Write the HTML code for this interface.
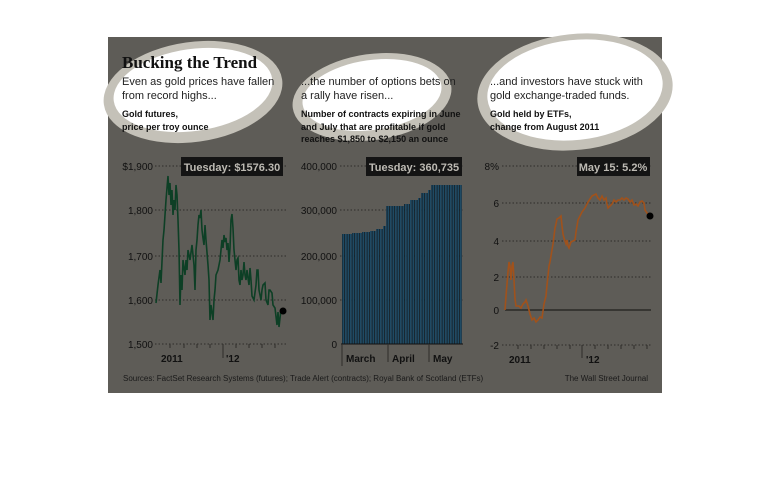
<!DOCTYPE html>
<html><head><meta charset="utf-8"><style>
body{margin:0;background:#fff;width:770px;height:488px;overflow:hidden}
svg{display:block}
text{font-family:"Liberation Sans",sans-serif}
</style></head><body>
<svg width="770" height="488" viewBox="0 0 770 488">
<rect x="108" y="37" width="554" height="356" fill="#5e5c57"/>
<g>
<ellipse cx="193" cy="92" rx="90" ry="50" fill="#c4c1b8" transform="rotate(-8 193 92)"/>
<ellipse cx="193" cy="90" rx="80" ry="41" fill="#fff" transform="rotate(-8 193 90)"/>
<ellipse cx="372" cy="97" rx="80" ry="43" fill="#c4c1b8" transform="rotate(-8 372 97)"/>
<ellipse cx="372" cy="95" rx="70" ry="35" fill="#fff" transform="rotate(-8 372 95)"/>
<ellipse cx="575" cy="92" rx="98" ry="58" fill="#c4c1b8" transform="rotate(-6 575 92)"/>
<ellipse cx="575" cy="90" rx="88" ry="50" fill="#fff" transform="rotate(-6 575 90)"/>
</g>
<text x="122" y="68" font-weight="bold" font-size="17" fill="#111" style="font-family:'Liberation Serif',serif">Bucking the Trend</text>
<g font-size="11" fill="#222">
<text x="122" y="85">Even as gold prices have fallen</text>
<text x="122" y="99">from record highs...</text>
<text x="301" y="85">...the number of options bets on</text>
<text x="301" y="99">a rally have risen...</text>
<text x="490" y="85">...and investors have stuck with</text>
<text x="490" y="99">gold exchange-traded funds.</text>
</g>
<g font-size="9" font-weight="bold" fill="#111">
<text x="122" y="117">Gold futures,</text>
<text x="122" y="130">price per troy ounce</text>
<text x="301" y="117">Number of contracts expiring in June</text>
<text x="301" y="130">and July that are profitable if gold</text>
<text x="301" y="142">reaches $1,850 to $2,150 an ounce</text>
<text x="490" y="117">Gold held by ETFs,</text>
<text x="490" y="130">change from August 2011</text>
</g>
<g stroke="#2e2d2a" stroke-dasharray="1.5 2" stroke-width="1">
<line x1="155" y1="166" x2="287" y2="166"/><line x1="155" y1="210" x2="287" y2="210"/><line x1="155" y1="256" x2="287" y2="256"/><line x1="155" y1="300" x2="287" y2="300"/><line x1="155" y1="344" x2="287" y2="344"/>
<line x1="340" y1="166" x2="463" y2="166"/><line x1="340" y1="210" x2="463" y2="210"/><line x1="340" y1="256" x2="463" y2="256"/><line x1="340" y1="300" x2="463" y2="300"/>
<line x1="502" y1="166" x2="651" y2="166"/><line x1="502" y1="203" x2="651" y2="203"/><line x1="502" y1="241" x2="651" y2="241"/><line x1="502" y1="277" x2="651" y2="277"/><line x1="502" y1="345" x2="651" y2="345"/>
</g>
<g font-size="10" fill="#111" text-anchor="end">
<text x="153" y="170">$1,900</text><text x="153" y="214">1,800</text><text x="153" y="260">1,700</text><text x="153" y="304">1,600</text><text x="153" y="348">1,500</text>
<text x="337" y="170">400,000</text><text x="337" y="214">300,000</text><text x="337" y="260">200,000</text><text x="337" y="304">100,000</text><text x="337" y="348">0</text>
<text x="499" y="170">8%</text><text x="499" y="207">6</text><text x="499" y="245">4</text><text x="499" y="281">2</text><text x="499" y="314">0</text><text x="499" y="349">-2</text>
</g>
<rect x="181" y="157" width="102" height="19" fill="#141414"/>
<text x="232" y="171" font-size="11" font-weight="bold" fill="#bdbab3" text-anchor="middle">Tuesday: $1576.30</text>
<rect x="366" y="157" width="96" height="19" fill="#141414"/>
<text x="414" y="171" font-size="11" font-weight="bold" fill="#bdbab3" text-anchor="middle">Tuesday: 360,735</text>
<rect x="577" y="157" width="73" height="19" fill="#141414"/>
<text x="613" y="171" font-size="11" font-weight="bold" fill="#bdbab3" text-anchor="middle">May 15: 5.2%</text>
<polyline fill="none" stroke="#0d3f25" stroke-width="1.6" points="156,303 158,285 160,270 161,283 163,240 164,230 166,200 167,188 168,176 169,195 170,183 171,205 172,190 173,215 174,200 175,210 176,185 177,195 178,220 179,250 180,305 181,275 182,290 183,260 185,275 186,260 187,270 188,250 190,260 192,245 194,265 195,290 196,250 197,240 198,225 199,215 200,218 201,210 202,230 203,238 204,245 205,225 206,240 208,265 209,280 210,320 211,305 213,320 214,300 215,290 216,275 218,270 220,260 221,250 222,240 223,248 224,235 225,242 226,238 227,250 228,243 229,262 230,248 231,220 232,214 233,228 234,250 235,260 236,270 237,260 238,258 239,280 240,285 241,270 242,280 243,275 244,262 245,275 246,280 247,270 248,278 249,285 250,268 251,280 252,296 254,300 256,285 257,270 258,270 259,290 260,295 261,300 262,290 263,285 265,283 266,300 268,305 269,290 270,290 272,293 273,305 275,308 277,325 278,312 279,327 280,318 281,310 283,311"/>
<circle cx="283" cy="311" r="3.5" fill="#000"/>
<g stroke="#2e2d2a" stroke-width="1">
<line x1="223" y1="344" x2="223" y2="358"/>
<line x1="170" y1="344" x2="170" y2="348"/><line x1="184" y1="344" x2="184" y2="348"/><line x1="197" y1="344" x2="197" y2="348"/><line x1="210" y1="344" x2="210" y2="348"/><line x1="236" y1="344" x2="236" y2="348"/><line x1="249" y1="344" x2="249" y2="348"/><line x1="262" y1="344" x2="262" y2="348"/><line x1="275" y1="344" x2="275" y2="348"/>
</g>
<g font-size="10" font-weight="bold" fill="#111">
<text x="161" y="362">2011</text><text x="226" y="362">'12</text>
<text x="346" y="362">March</text><text x="392" y="362">April</text><text x="433" y="362">May</text>
<text x="509" y="363">2011</text><text x="586" y="363">'12</text>
</g>
<defs><pattern id="bars" width="2.5" height="10" patternUnits="userSpaceOnUse"><rect width="1.7" height="10" fill="#1f4a63"/><rect x="1.7" width="0.8" height="10" fill="#0e1c26"/></pattern></defs>
<path fill="url(#bars)" d="M342,344 L342,234 L352,234 L352,233 L362,233 L362,232 L370,232 L370,231 L376,231 L376,229 L383,229 L383,226 L386,226 L386,206 L404,206 L404,204 L410,204 L410,200 L418,200 L418,198 L421,198 L421,193 L428,193 L428,190 L431,190 L431,185 L462,185 L462,344 Z"/>
<line x1="341" y1="344" x2="463" y2="344" stroke="#111" stroke-width="1"/>
<g stroke="#2e2d2a"><line x1="342" y1="344" x2="342" y2="366"/><line x1="388" y1="344" x2="388" y2="362"/><line x1="429" y1="344" x2="429" y2="362"/></g>
<line x1="505" y1="310" x2="651" y2="310" stroke="#2a2927" stroke-width="1.5"/>
<g stroke="#2e2d2a"><line x1="582" y1="345" x2="582" y2="358"/>
<line x1="518" y1="345" x2="518" y2="349"/><line x1="531" y1="345" x2="531" y2="349"/><line x1="544" y1="345" x2="544" y2="349"/><line x1="557" y1="345" x2="557" y2="349"/><line x1="570" y1="345" x2="570" y2="349"/><line x1="595" y1="345" x2="595" y2="349"/><line x1="608" y1="345" x2="608" y2="349"/><line x1="621" y1="345" x2="621" y2="349"/><line x1="634" y1="345" x2="634" y2="349"/><line x1="647" y1="345" x2="647" y2="349"/></g>
<polyline fill="none" stroke="#a0521c" stroke-width="1.6" points="505,310 506,296 507,284 508,272 509,262 510,266 511,280 512,266 513,262 514,280 515,299 516,306 519,306 521,308 523,304 525,302 526,300 528,306 530,314 532,320 534,318 536,322 538,320 540,317 542,318 544,304 546,296 547,285 548,276 549,266 550,262 551,256 552,250 553,244 554,236 555,228 556,224 557,219 559,218 561,216 562,226 563,234 564,238 566,244 567,240 568,246 569,248 571,242 573,241 575,240 576,232 577,226 578,220 580,216 582,212 585,208 588,202 590,199 592,196 594,195 596,194 598,198 600,200 602,196 604,200 606,198 607,204 608,208 610,206 612,204 614,200 616,202 618,200 620,200 622,198 624,200 626,198 628,199 630,202 632,200 634,205 636,204 638,206 640,202 642,201 644,203 645,210 647,213 650,216"/>
<circle cx="650" cy="216" r="3.5" fill="#000"/>
<text x="123" y="381" font-size="8" fill="#1a1a1a">Sources: FactSet Research Systems (futures); Trade Alert (contracts); Royal Bank of Scotland (ETFs)</text>
<text x="648" y="381" font-size="8" fill="#1a1a1a" text-anchor="end">The Wall Street Journal</text>
</svg>
</body></html>
